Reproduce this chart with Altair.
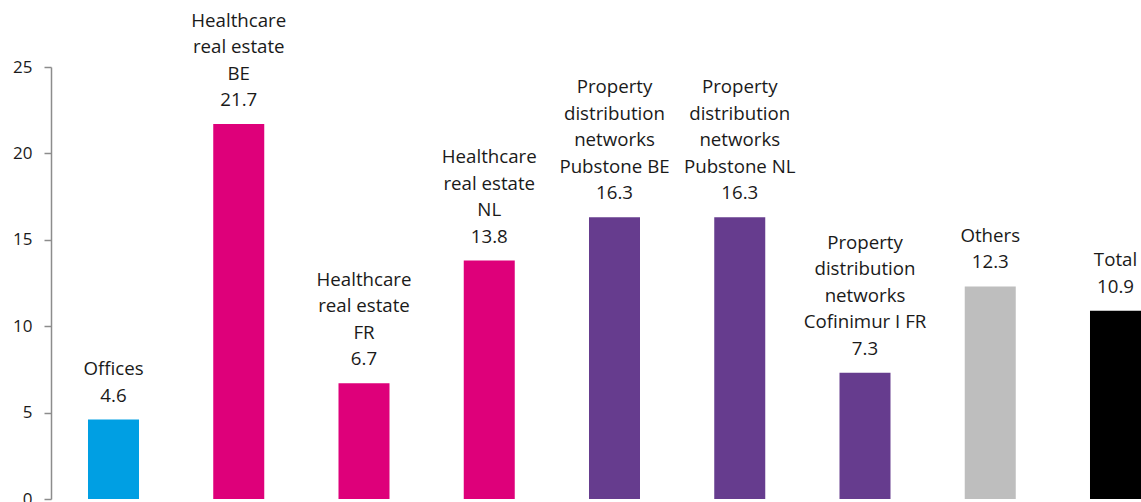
import altair as alt
import pandas as pd

categories = [
    "Offices",
    "Healthcare\nreal estate\nBE",
    "Healthcare\nreal estate\nFR",
    "Healthcare\nreal estate\nNL",
    "Property\ndistribution\nnetworks\nPubstone BE",
    "Property\ndistribution\nnetworks\nPubstone NL",
    "Property\ndistribution\nnetworks\nCofinimur I FR",
    "Others",
    "Total",
]
values = [4.6, 21.7, 6.7, 13.8, 16.3, 16.3, 7.3, 12.3, 10.9]
colors = ["#009FE3", "#DE007A", "#DE007A", "#DE007A", "#663C8E",
          "#663C8E", "#663C8E", "#BEBEBE", "#000000"]
y_ticks = [0, 5, 10, 15, 20, 25]

df = pd.DataFrame({
    "idx": list(range(len(categories))),
    "cat": categories,
    "value": values,
    "color": colors,
})

# one row per text line, k = line position counted from the bottom (value = 0)
rows = []
for i, (c, v) in enumerate(zip(categories, values)):
    lines = c.split("\n") + [f"{v:.1f}"]
    n = len(lines)
    for j, t in enumerate(lines):
        rows.append({"idx": i, "value": v, "line": t, "k": n - 1 - j})
tdf = pd.DataFrame(rows)

font = "Open Sans"

x_enc = alt.X("idx:O", axis=None,
              scale=alt.Scale(paddingInner=0.5928, paddingOuter=0.1477, align=1))

bars = alt.Chart(df).mark_bar().encode(
    x=x_enc,
    y=alt.Y("value:Q",
            scale=alt.Scale(domain=[0, 25], nice=False),
            axis=alt.Axis(values=y_ticks, title=None, grid=False,
                          domainColor="#8c8c8c", domainWidth=1.5,
                          tickColor="#8c8c8c", tickWidth=1.5, tickSize=7,
                          labelFont=font, labelFontSize=17, labelColor="#1a1a1a",
                          labelPadding=12)),
    color=alt.Color("color:N", scale=None),
)

layers = [bars]
for k in range(int(tdf["k"].max()) + 1):
    layers.append(
        alt.Chart(tdf).transform_filter(alt.datum.k == k).mark_text(
            baseline="middle", align="center", dy=-24 - 26.5 * k,
            font=font, fontSize=18.7, color="#1a1a1a",
        ).encode(
            x=x_enc,
            y="value:Q",
            text="line:N",
        )
    )

chart = alt.layer(*layers).properties(
    width=1090, height=432,
    autosize=alt.AutoSizeParams(type="none"),
    padding={"left": 51, "top": 67, "right": 0, "bottom": 3},
).configure_view(stroke=None)

chart.save("out.html", embed_options={"renderer": "svg", "actions": False})
